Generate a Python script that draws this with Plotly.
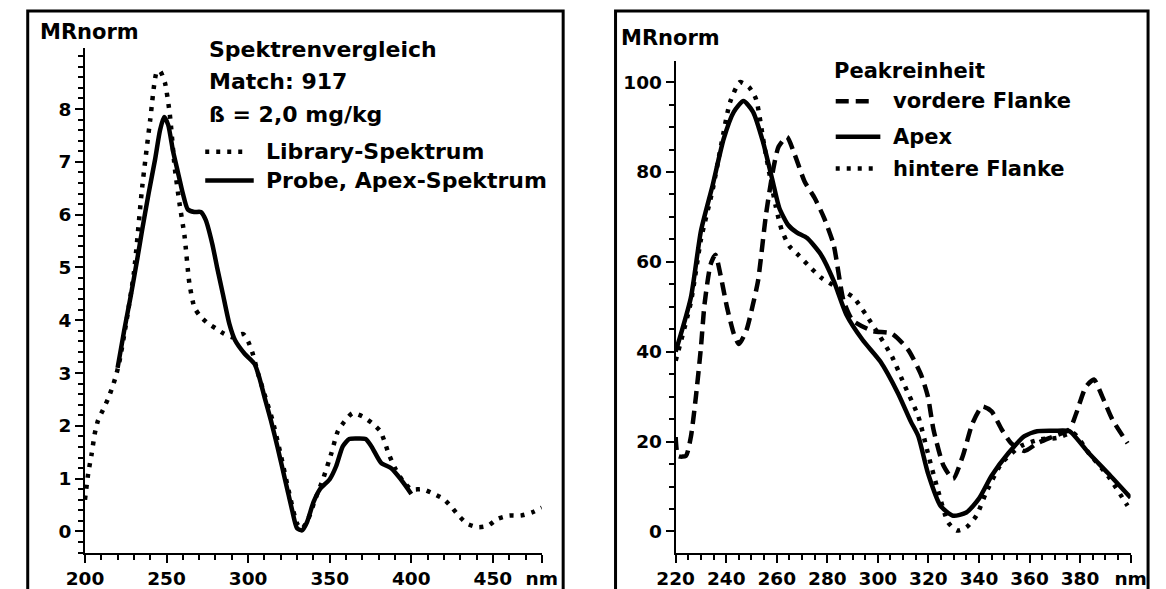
import plotly.graph_objects as go

W, H = 1166, 589
FONT = "DejaVu Sans"

# ---- Spektrenvergleich (left panel) ----
lib_nm = [200, 202, 204, 206, 208, 211, 214, 217, 219, 221, 225, 230, 235, 240, 244, 246,
          249, 252, 255, 258, 261, 264, 267, 270, 275, 280, 285, 290, 294, 297, 300, 303,
          306, 310, 315, 320, 325, 330, 333, 337, 341, 346, 351, 355, 359, 364, 370, 376,
          381, 384, 386, 390, 395, 400, 407, 414, 420, 425, 429, 434, 441, 447, 453, 460,
          467, 474, 480]
lib_mr = [0.6, 1.1, 1.45, 1.85, 2.1, 2.3, 2.5, 2.75, 2.95, 3.2, 3.9, 4.9, 6.5, 7.8, 8.7, 8.72,
          8.5, 7.9, 6.9, 6.2, 5.6, 4.7, 4.25, 4.1, 3.95, 3.85, 3.75, 3.68, 3.72, 3.74, 3.6, 3.35,
          3.0, 2.6, 2.1, 1.45, 0.75, 0.15, 0.05, 0.25, 0.6, 1.0, 1.48, 1.9, 2.08, 2.24, 2.18, 2.05,
          1.9, 1.67, 1.48, 1.2, 0.95, 0.8, 0.8, 0.71, 0.61, 0.45, 0.3, 0.15, 0.08, 0.11, 0.24, 0.3,
          0.3, 0.36, 0.45]

probe_nm = [220, 224, 228, 232, 235, 239, 243, 246, 248.5, 251, 254, 257, 260, 263, 267, 271,
            274, 278, 281, 284.5, 288.5, 292, 298, 304, 307, 310, 314, 318, 321, 324, 327, 330,
            333, 336, 340, 344, 350, 354, 358, 362, 367, 372, 375.6, 381.5, 387.5, 393.5, 400]
probe_mr = [3.1, 3.8, 4.45, 5.15, 5.7, 6.4, 7.05, 7.6, 7.85, 7.7, 7.2, 6.8, 6.4, 6.1, 6.05, 6.05,
            5.9, 5.45, 5.0, 4.5, 3.93, 3.62, 3.36, 3.17, 2.9, 2.55, 2.1, 1.6, 1.2, 0.8, 0.4, 0.06,
            0.02, 0.17, 0.55, 0.8, 0.99, 1.24, 1.61, 1.75, 1.76, 1.75, 1.61, 1.3, 1.2, 0.99, 0.71]

# ---- Peakreinheit (right panel) ----
vorn_nm = [220, 221, 224, 226, 228, 230, 231.4, 233.8, 235.7, 237.7, 240.3, 243, 245, 248,
           250.6, 252.6, 255.7, 258.4, 260.7, 264, 267.2, 271, 275, 278.7, 282.5, 286.4, 290,
           298, 305.6, 312, 317, 319.8, 322, 326, 329.8, 333.6, 337.4, 341.3, 345, 349, 352.8,
           358, 363, 369.7, 375.8, 378.5, 382.3, 385.5, 388.8, 392.7, 398.8]
vorn_mr = [21, 16.8, 16.8, 21, 30, 41, 50.5, 59.4, 61.6, 57.2, 49.9, 44, 41.7, 44.8,
           50.6, 55.8, 70.4, 80, 85.6, 87.8, 83.7, 77.9, 74.2, 69.8, 63.8, 51.4, 47,
           44.6, 44, 40.4, 35, 30, 22.7, 14.6, 11.7, 16.8, 24, 27.8, 26.7, 22.7, 19.6,
           17.9, 19.6, 21.2, 22.7, 26.3, 32.2, 33.8, 30, 25, 19.6]

apex_nm = [220, 226, 230, 234.6, 239, 243, 246.8, 250.6, 254.5, 258.4, 261, 264.5, 268, 272,
           277.5, 282.5, 287.5, 294, 301, 308, 313, 316, 319.8, 324.8, 329.8, 335, 340, 345,
           351.6, 358, 363, 370, 375.8, 383.5, 391, 400]
apex_mr = [40, 52, 66.9, 77, 87.4, 93.4, 95.8, 93.4, 86.8, 77.9, 72, 68.2, 66.5, 65.3,
           61.6, 55.8, 48.3, 42.6, 37.8, 30.7, 24.5, 21.2, 13, 5.7, 3.5, 4.2, 7.3, 12.4,
           17.4, 21.2, 22.3, 22.4, 22.3, 17.4, 13, 7.5]

hint_nm = [220, 226, 230, 234.6, 238, 241.5, 245.4, 249, 251.8, 255, 259.5, 262, 265, 268.4,
           272.2, 277.5, 283.8, 290.3, 295.2, 300.6, 305.6, 310.5, 316, 319.8, 323.6, 327.8,
           331.3, 335, 339, 342.8, 349, 356.6, 364.3, 370.8, 377.3, 383.5, 391, 398.8]
hint_mr = [38, 51, 65, 76, 86, 95.5, 100, 98.9, 96.2, 86, 72.6, 67, 63.5, 61.6,
           59.4, 56.5, 54.3, 52.1, 48.3, 43.6, 38.9, 32.6, 25.6, 17.4, 9.5, 2,
           0.2, 0.9, 3.5, 8.6, 15.2, 19, 20.5, 20.8, 21.9, 17.4, 12.4, 5.7]

# tick labels
left_xtick_vals = [200, 250, 300, 350, 400, 450, 480]
left_xtick_text = ["200", "250", "300", "350", "400", "450", "nm"]
left_ytick_vals = [0, 1, 2, 3, 4, 5, 6, 7, 8]
right_xtick_vals = [220, 240, 260, 280, 300, 320, 340, 360, 380, 400]
right_xtick_text = ["220", "240", "260", "280", "300", "320", "340", "360", "380", "nm"]
right_ytick_vals = [0, 20, 40, 60, 80, 100]

DOT = "4px,7px"
DASH = "13px,7px"
LW = 4.5


def px(x):
    return x / W


def py(y):
    return 1 - y / H


fig = go.Figure()

fig.add_trace(go.Scatter(x=lib_nm, y=lib_mr, mode="lines", xaxis="x", yaxis="y",
                         line=dict(color="black", width=LW, dash=DOT, shape="spline", smoothing=0.6)))
fig.add_trace(go.Scatter(x=probe_nm, y=probe_mr, mode="lines", xaxis="x", yaxis="y",
                         line=dict(color="black", width=LW, shape="spline", smoothing=0.6)))

fig.add_trace(go.Scatter(x=vorn_nm, y=vorn_mr, mode="lines", xaxis="x2", yaxis="y2",
                         line=dict(color="black", width=LW, dash=DASH, shape="spline", smoothing=0.6)))
fig.add_trace(go.Scatter(x=hint_nm, y=hint_mr, mode="lines", xaxis="x2", yaxis="y2",
                         line=dict(color="black", width=LW, dash=DOT, shape="spline", smoothing=0.6)))
fig.add_trace(go.Scatter(x=apex_nm, y=apex_mr, mode="lines", xaxis="x2", yaxis="y2",
                         line=dict(color="black", width=LW, shape="spline", smoothing=0.6)))

tickfont = dict(family=FONT, size=18.5, color="black", weight="bold")


def axis_common():
    return dict(showline=True, linewidth=2, linecolor="black", ticks="outside",
                ticklen=8, tickwidth=2, tickcolor="black", showgrid=False,
                zeroline=False, tickfont=tickfont, fixedrange=True)


fig.update_layout(
    width=W, height=H,
    margin=dict(l=0, r=0, t=0, b=0),
    paper_bgcolor="white", plot_bgcolor="white",
    showlegend=False,
    xaxis=dict(**axis_common(), domain=[px(68), px(539)], range=[200, 480], anchor="y",
               tickmode="array", tickvals=left_xtick_vals, ticktext=left_xtick_text,
               minor=dict(ticks="outside", tick0=200, dtick=10, ticklen=5, tickwidth=2,
                          tickcolor="black")),
    yaxis=dict(**axis_common(), domain=[py(558), py(48)], range=[-0.413, 9.164], anchor="x",
               tickmode="array", tickvals=left_ytick_vals,
               minor=dict(ticks="outside", tick0=0, dtick=0.2, ticklen=5, tickwidth=2,
                          tickcolor="black")),
    xaxis2=dict(**axis_common(), domain=[px(677), px(1146)], range=[220, 400], anchor="y2",
                tickmode="array", tickvals=right_xtick_vals, ticktext=right_xtick_text,
                minor=dict(ticks="outside", tick0=220, dtick=5, ticklen=5, tickwidth=2,
                           tickcolor="black")),
    yaxis2=dict(**axis_common(), domain=[py(558), py(62)], range=[-4.86, 104.6], anchor="x2",
                tickmode="array", tickvals=right_ytick_vals,
                minor=dict(ticks="outside", tick0=0, dtick=5, ticklen=5, tickwidth=2,
                           tickcolor="black")),
)

# panel frames (open at the bottom)
shapes = [
    dict(type="path", xref="paper", yref="paper",
         path=f"M {px(9)} {py(600)} L {px(9)} {py(11)} L {px(561)} {py(11)} L {px(561)} {py(600)}",
         line=dict(color="black", width=3)),
    dict(type="path", xref="paper", yref="paper",
         path=f"M {px(615)} {py(600)} L {px(615)} {py(11)} L {px(1164)} {py(11)} L {px(1164)} {py(600)}",
         line=dict(color="black", width=3)),
]

# legend line samples
shapes += [
    dict(type="line", xref="paper", yref="paper", x0=px(192), x1=px(235), y0=py(153), y1=py(153),
         line=dict(color="black", width=LW, dash=DOT)),
    dict(type="line", xref="paper", yref="paper", x0=px(192), x1=px(242), y0=py(182), y1=py(182),
         line=dict(color="black", width=LW)),
    dict(type="line", xref="paper", yref="paper", x0=px(842), x1=px(877), y0=py(102), y1=py(102),
         line=dict(color="black", width=LW, dash=DASH)),
    dict(type="line", xref="paper", yref="paper", x0=px(842), x1=px(888), y0=py(138), y1=py(138),
         line=dict(color="black", width=LW)),
    dict(type="line", xref="paper", yref="paper", x0=px(842), x1=px(886), y0=py(170), y1=py(170),
         line=dict(color="black", width=LW, dash=DOT)),
]
fig.update_layout(shapes=shapes)

txtfont = dict(family=FONT, size=22, color="black", weight="bold")
labels = [
    ("MRnorm", 20, 32, 21),
    ("Spektrenvergleich", 194, 50, 22),
    ("Match: 917", 194, 82, 22),
    ("ß = 2,0 mg/kg", 194, 115, 22),
    ("Library-Spektrum", 253, 153, 22),
    ("Probe, Apex-Spektrum", 253, 182, 22),
    ("MRnorm", 619, 38, 21),
    ("Peakreinheit", 838, 72, 21),
    ("vordere Flanke", 899, 102, 21),
    ("Apex", 899, 138, 21),
    ("hintere Flanke", 899, 170, 21),
]
for text, x, y, size in labels:
    fig.add_annotation(text=text, xref="paper", yref="paper", x=px(x), y=py(y),
                       xanchor="left", yanchor="middle", showarrow=False,
                       font=dict(txtfont, size=size))

fig.write_html("out.html")
